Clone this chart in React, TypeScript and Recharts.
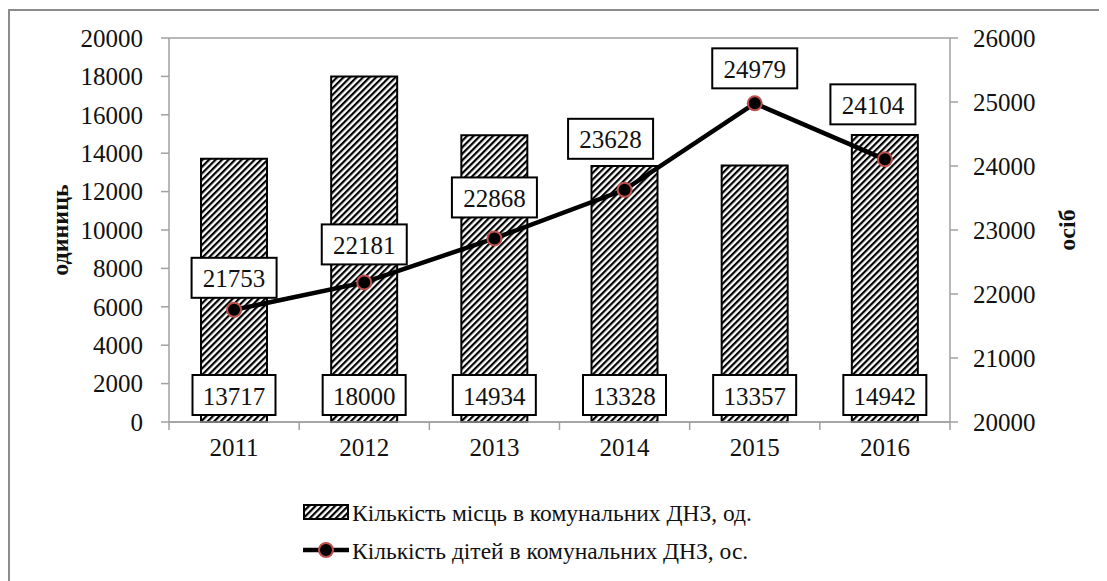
import React from "react";
import { ComposedChart, Bar, Line, XAxis, YAxis, CartesianGrid, LabelList, Legend } from "recharts";

const years = ["2011", "2012", "2013", "2014", "2015", "2016"];
const places = [13717, 18000, 14934, 13328, 13357, 14942];
const kids = [21753, 22181, 22868, 23628, 24979, 24104];
const leftTicks = [0, 2000, 4000, 6000, 8000, 10000, 12000, 14000, 16000, 18000, 20000];
const rightTicks = [20000, 21000, 22000, 23000, 24000, 25000, 26000];
const placesName = "Кількість місць в комунальних ДНЗ, од.";
const kidsName = "Кількість дітей в комунальних ДНЗ, ос.";

const data = years.map((year, i) => ({ year, places: places[i], kids: kids[i] }));

// labels on the line were dragged around by hand in the original
const lineLabelShift = [
  [0, -32],
  [0, -38],
  [0, -41],
  [-14, -51],
  [0, -35],
  [-12, -55],
];

const FONT = "'Liberation Serif', 'Times New Roman', serif";
const TXT = "#111";
const GRID = "#a0a0a0";
const PLOT_LEFT = 161;
const PLOT_RIGHT = 942;
const HALF_BAND = (PLOT_RIGHT - PLOT_LEFT) / years.length / 2;

const ValueBox = ({ cx, cy, w, value }: { cx: number; cy: number; w: number; value: any }) => (
  <g>
    <rect x={cx - w / 2} y={cy - 20} width={w} height={40} fill="#fff" stroke="#000" strokeWidth={2} />
    <text x={cx} y={cy + 1} textAnchor="middle" dominantBaseline="central" fontSize={25} fontFamily={FONT} fill={TXT}>
      {value}
    </text>
  </g>
);

const BarValue = (p: any) => {
  const cx = Number(p.x) + Number(p.width) / 2;
  const cy = Number(p.y) + Number(p.height) - 27;
  return <ValueBox cx={cx} cy={cy} w={83} value={p.value} />;
};

const LineValue = (p: any) => {
  const [dx, dy] = lineLabelShift[p.index] || [0, -35];
  return <ValueBox cx={Number(p.x) + dx} cy={Number(p.y) + dy} w={85} value={p.value} />;
};

const YearTick = (p: any) => {
  const { x, y, payload, index } = p;
  return (
    <g>
      <line x1={x - HALF_BAND} x2={x - HALF_BAND} y1={y} y2={y + 8} stroke={GRID} strokeWidth={1.5} />
      {index === years.length - 1 && (
        <line x1={x + HALF_BAND} x2={x + HALF_BAND} y1={y} y2={y + 8} stroke={GRID} strokeWidth={1.5} />
      )}
      <text x={x} y={y + 34} textAnchor="middle" fontSize={25} fontFamily={FONT} fill={TXT}>
        {payload.value}
      </text>
    </g>
  );
};

const LegendRows = (props: any) => {
  const items = [...(props.payload || [])].sort((a: any, b: any) => (a.type === "line" ? 1 : 0) - (b.type === "line" ? 1 : 0));
  return (
    <svg width={600} height={80} style={{ display: "block" }}>
      {items.map((e: any, i: number) => {
        const cy = 20 + i * 38;
        return (
          <g key={e.value}>
            {e.type === "line" ? (
              <g>
                <line x1={1} x2={47} y1={cy} y2={cy} stroke="#000" strokeWidth={4.5} />
                <circle cx={24} cy={cy} r={7} fill="#000" stroke="#c0504d" strokeWidth={2} />
              </g>
            ) : (
              <rect x={2} y={cy - 7} width={44} height={14} fill="url(#hatch)" stroke="#000" strokeWidth={2} />
            )}
            <text x={50} y={cy + 1} dominantBaseline="central" fontSize={23.5} fontFamily={FONT} fill={TXT}>
              {e.value}
            </text>
          </g>
        );
      })}
    </svg>
  );
};

export default function App() {
  return (
    <div style={{ position: "relative", width: 1099, height: 573, background: "#fff", fontFamily: FONT }}>
      <svg width={0} height={0} style={{ position: "absolute" }}>
        <defs>
          <pattern id="hatch" patternUnits="userSpaceOnUse" width={4.6} height={4.6} patternTransform="rotate(45)">
            <rect x={0} y={0} width={4.6} height={4.6} fill="#fff" />
            <rect x={0} y={0} width={2.2} height={4.6} fill="#000" />
          </pattern>
        </defs>
      </svg>
      <div style={{ position: "absolute", left: 0, top: 1, width: 1099, height: 2, background: "#8c8c8c" }} />
      <div style={{ position: "absolute", left: 0, top: 1, width: 2, height: 572, background: "#8c8c8c" }} />
      <div style={{ position: "absolute", left: 0, top: 0 }}>
        <ComposedChart width={1099} height={573} data={data} margin={{ top: 30, right: 57, left: 61, bottom: 99 }}>
          <CartesianGrid vertical={false} stroke={GRID} strokeWidth={1.5} />
          <XAxis
            dataKey="year"
            height={60}
            stroke={GRID}
            strokeWidth={1.5}
            tickLine={false}
            tickSize={0}
            tickMargin={0}
            tick={<YearTick />}
            interval={0}
          />
          <YAxis
            yAxisId="left"
            width={100}
            domain={[0, 20000]}
            ticks={leftTicks}
            interval={0}
            stroke={GRID}
            strokeWidth={1.5}
            tickSize={8}
            tickMargin={18}
            tick={{ fontSize: 25, fontFamily: FONT, fill: TXT }}
            label={{
              content: (p: any) => {
                const vb = p.viewBox;
                const x = vb.x - 9;
                const y = vb.y + vb.height / 2;
                return (
                  <text x={x} y={y} transform={`rotate(-90 ${x} ${y})`} textAnchor="middle" dominantBaseline="central" fontSize={24} fontWeight="bold" fontFamily={FONT} fill={TXT}>
                    одиниць
                  </text>
                );
              },
            }}
          />
          <YAxis
            yAxisId="right"
            orientation="right"
            width={100}
            domain={[20000, 26000]}
            ticks={rightTicks}
            interval={0}
            stroke={GRID}
            strokeWidth={1.5}
            tickSize={8}
            tickMargin={15}
            tick={{ fontSize: 25, fontFamily: FONT, fill: TXT }}
            label={{
              content: (p: any) => {
                const vb = p.viewBox;
                const x = vb.x + 117;
                const y = vb.y + vb.height / 2;
                return (
                  <text x={x} y={y} transform={`rotate(-90 ${x} ${y})`} textAnchor="middle" dominantBaseline="central" fontSize={24} fontWeight="bold" fontFamily={FONT} fill={TXT}>
                    осіб
                  </text>
                );
              },
            }}
          />
          <Legend
            layout="vertical"
            align="center"
            verticalAlign="middle"
            wrapperStyle={{ left: 294, top: 484, width: 600 }}
            content={<LegendRows />}
          />
          <Bar yAxisId="left" dataKey="places" name={placesName} barSize={66} fill="url(#hatch)" stroke="#000" strokeWidth={2} isAnimationActive={false}>
            <LabelList dataKey="places" content={<BarValue />} />
          </Bar>
          <Line
            yAxisId="right"
            dataKey="kids"
            name={kidsName}
            type="linear"
            stroke="#000"
            strokeWidth={4.5}
            dot={{ r: 7, fill: "#000", stroke: "#c0504d", strokeWidth: 2 }}
            activeDot={false}
            isAnimationActive={false}
          >
            <LabelList dataKey="kids" content={<LineValue />} />
          </Line>
        </ComposedChart>
      </div>
    </div>
  );
}
